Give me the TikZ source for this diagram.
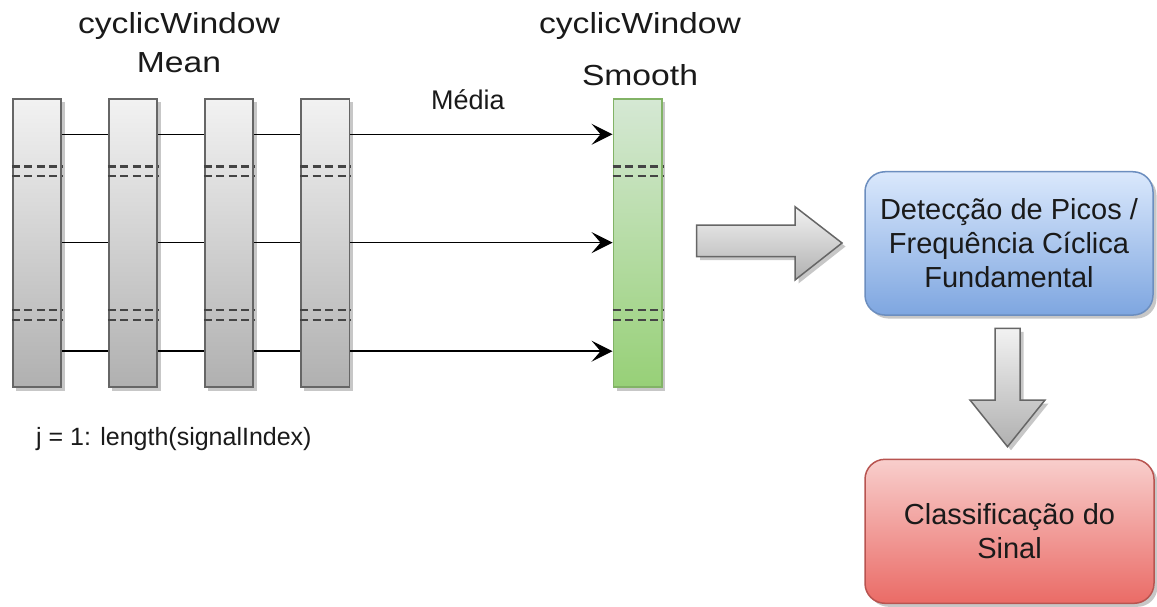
\documentclass[tikz,border=0pt]{standalone}
\usepackage{fontspec}
\usepackage{graphicx}
\setmainfont{Liberation Sans}
\usetikzlibrary{arrows.meta,shadows,calc}

\definecolor{barTop}{HTML}{F2F2F2}
\definecolor{barBot}{HTML}{B0B0B0}
\definecolor{barEdge}{HTML}{666666}
\definecolor{grnTop}{HTML}{D5E8D4}
\definecolor{grnBot}{HTML}{97D077}
\definecolor{grnEdge}{HTML}{82B366}
\definecolor{bluTop}{HTML}{DAE8FC}
\definecolor{bluBot}{HTML}{7EA6E0}
\definecolor{bluEdge}{HTML}{6C8EBF}
\definecolor{redTop}{HTML}{F8CECC}
\definecolor{redBot}{HTML}{EA6B66}
\definecolor{redEdge}{HTML}{B85450}
\definecolor{sepGray}{HTML}{444444}
\definecolor{inkDark}{HTML}{1A1A1A}

% slightly widened lettering for the column headings
\newcommand\widetitle[1]{\scalebox{1.16}[1]{#1}}

\begin{document}
\begin{tikzpicture}[x=1pt,y=-1pt,
  softshadow/.style={drop shadow={shadow xshift=3.5pt,shadow yshift=-3.5pt,fill=black,opacity=0.22}},
  bar/.style={draw=barEdge,line width=1.6pt,top color=barTop,bottom color=barBot,
    minimum width=48.5pt,minimum height=288pt,inner sep=0pt,softshadow},
  greenbar/.style={bar,draw=grnEdge,top color=grnTop,bottom color=grnBot},
  sep/.style={draw=sepGray,line width=2.8pt,dash pattern=on 8pt off 4.5pt},
  link/.style={draw=black,line width=1.5pt},
  tip/.style={-{Stealth[length=21pt,width=21pt,inset=9pt]}},
  title/.style={font=\fontsize{29}{36}\selectfont,text=inkDark,align=center,inner sep=0pt},
  lbl/.style={font=\fontsize{27}{32}\selectfont,text=inkDark,inner sep=0pt},
  lblsmall/.style={font=\fontsize{25}{30}\selectfont,text=inkDark,inner sep=0pt},
  rbox/.style={rounded corners=20pt,line width=1.5pt,align=center,inner sep=0pt,
    font=\fontsize{29}{34}\selectfont,text=inkDark,softshadow},
  blockarrow/.style={draw=barEdge,line width=1.5pt,top color=barTop,bottom color=barBot,softshadow}
]
\fill[white] (0,0) rectangle (1157,607);
\useasboundingbox (0,0) rectangle (1157,607);

% column titles
\node[title] (tmean) at (179,42.5) {\widetitle{cyclicWindow}\\[3pt]\widetitle{Mean}};
\node[title] (tsmooth) at (640,49) {\widetitle{cyclicWindow}\\[16pt]\widetitle{Smooth}};

% window bars
\node[bar] (m1) at (37,243) {};
\node[bar] (m2) at (133,243) {};
\node[bar] (m3) at (229,243) {};
\node[bar] (m4) at (325.2,243) {};
\node[greenbar] (sm) at (637.6,243) {};

% row and separator levels
\coordinate (r1) at (0,134.3);
\coordinate (r2) at (0,242.6);
\coordinate (r3) at (0,351.2);
\coordinate (d1) at (0,166.7);
\coordinate (d2) at (0,176);
\coordinate (d3) at (0,310);
\coordinate (d4) at (0,320);

\foreach \b in {m1,m2,m3,m4,sm}
  \foreach \d in {d1,d2,d3,d4}
    \draw[sep] (\b.west |- \d) -- (\b.east |- \d);

% links between windows and the averaging arrows
\foreach \r in {r1,r2,r3}{
  \draw[link] (m1.east |- \r) -- (m2.west |- \r);
  \draw[link] (m2.east |- \r) -- (m3.west |- \r);
  \draw[link] (m3.east |- \r) -- (m4.west |- \r);
  \draw[link,tip] (m4.east |- \r) -- (sm.west |- \r);
}

\node[lbl,anchor=base] (media) at (468,110) {Média};
\node[lblsmall,anchor=base west] (loop) at (36,445) {j = 1: length(signalIndex)};

% processing stages
\node[rbox,draw=bluEdge,top color=bluTop,bottom color=bluBot,
  minimum width=288pt,minimum height=143.3pt] (peak) at (1009,243.4)
  {Detecção de Picos /\\Frequência Cíclica\\Fundamental};
\node[rbox,draw=redEdge,top color=redTop,bottom color=redBot,
  minimum width=289pt,minimum height=144pt] (cls) at (1009.5,531.3)
  {Classificação do\\Sinal};

% block arrows
\path[blockarrow] (696.7,225) -- (795,225) -- (795,206.7) -- (842,243)
  -- (795,280) -- (795,256.7) -- (696.7,256.7) -- cycle;
\path[blockarrow] (995,328.3) -- (1020,328.3) -- (1020,400) -- (1045,400)
  -- (1007.5,446.7) -- (970,400) -- (995,400) -- cycle;
\end{tikzpicture}
\end{document}
